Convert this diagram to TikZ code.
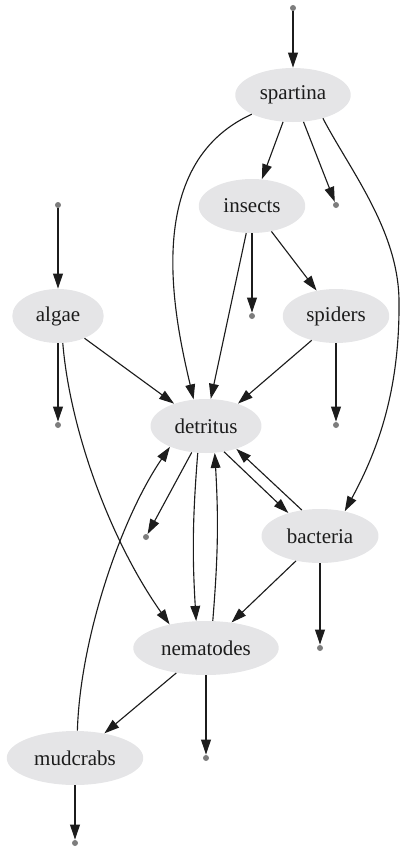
\documentclass[tikz,border=0pt]{standalone}
\usepackage{fontspec}
\setmainfont{Liberation Serif}
\usetikzlibrary{shapes.geometric,arrows.meta}
\definecolor{nodegray}{RGB}{229,229,231}
\definecolor{dotgray}{RGB}{125,125,125}
\definecolor{edgeblack}{RGB}{28,28,28}

\begin{document}
\begin{tikzpicture}[x=0.6667pt, y=-0.6667pt,
	species/.style={ellipse, fill=nodegray, inner sep=0pt, minimum height=36pt, font=\rmfamily\fontsize{14}{16}\selectfont, text=edgeblack},
	sinkdot/.style={circle, fill=dotgray, inner sep=0pt, minimum size=4pt},
	flow/.style={->, line width=0.75pt, draw=edgeblack},
	>={Triangle[length=10pt, width=6.5pt]}]
	\useasboundingbox (0,0) rectangle (401,849);
	\node[sinkdot] (spartinain) at (293,8) {};
	\node[species, minimum width=77pt] (spartina) at (293,95) {spartina};
	\node[species, minimum width=71pt] (insects) at (252,206) {insects};
	\node[sinkdot] (spartinaout) at (336,205) {};
	\node[sinkdot] (algaein) at (58,205) {};
	\node[species, minimum width=61pt] (algae) at (58,316) {algae};
	\node[sinkdot] (insectsout) at (252,316) {};
	\node[species, minimum width=71pt] (spiders) at (336,316) {spiders};
	\node[species, minimum width=74pt] (detritus) at (206,426) {detritus};
	\node[sinkdot] (algaeout) at (58,425) {};
	\node[sinkdot] (spidersout) at (336,425) {};
	\node[sinkdot] (detritusout) at (146,537) {};
	\node[species, minimum width=78pt] (bacteria) at (320,536) {bacteria};
	\node[species, minimum width=97pt] (nematodes) at (206,648) {nematodes};
	\node[sinkdot] (bacteriaout) at (320,648) {};
	\node[species, minimum width=91pt] (mudcrabs) at (75,758) {mudcrabs};
	\node[sinkdot] (nematodesout) at (206,758) {};
	\node[sinkdot] (mudcrabsout) at (75,843) {};

	\draw[flow] (spartinain) -- (spartina);
	\draw[flow] (spartina) -- (insects);
	\draw[flow] (spartina) -- (spartinaout);
	\draw[flow] (spartina.205) .. controls (140,165) and (175,320) .. (detritus.115);
	\draw[flow] (spartina.-38) .. controls (350,170) and (398,230) .. (399,300) .. controls (400,390) and (378,450) .. (bacteria.45);
	\draw[flow] (insects.-102) -- (detritus.80);
	\draw[flow] (insects) -- (insectsout);
	\draw[flow] (insects) -- (spiders);
	\draw[flow] (algaein) -- (algae);
	\draw[flow] (algae) -- (algaeout);
	\draw[flow] (algae.-40) -- (detritus.145);
	\draw[flow] (algae.-80) .. controls (70,430) and (110,540) .. (nematodes.147);
	\draw[flow] (spiders.225) -- (detritus.35);
	\draw[flow] (spiders) -- (spidersout);
	\draw[flow] (detritus) -- (detritusout);
	\draw[flow] (detritus.-107) to[bend right=4] (nematodes.110);
	\draw[flow] (nematodes.76) to[bend right=4] (detritus.-72);
	\draw[flow] (detritus.-55) -- (bacteria.144);
	\draw[flow] (bacteria.125) -- (detritus.-37);
	\draw[flow] (bacteria.226) -- (nematodes.45);
	\draw[flow] (bacteria) -- (bacteriaout);
	\draw[flow] (nematodes) -- (mudcrabs);
	\draw[flow] (nematodes) -- (nematodesout);
	\draw[flow] (mudcrabs.85) .. controls (80,640) and (120,520) .. (detritus.210);
	\draw[flow] (mudcrabs) -- (mudcrabsout);
\end{tikzpicture}
\end{document}
